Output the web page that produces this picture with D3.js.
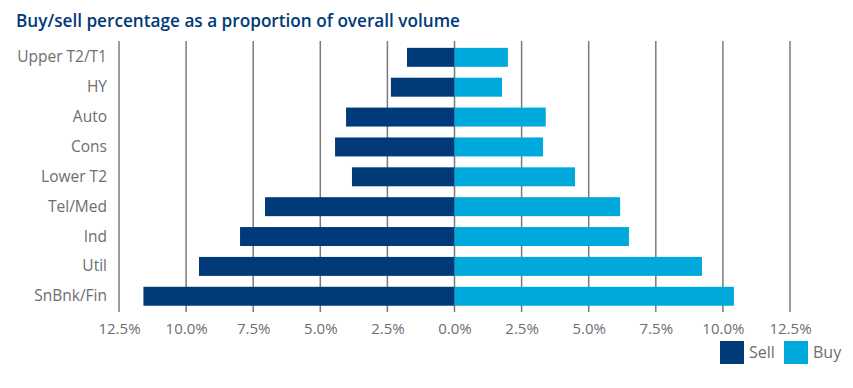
<!DOCTYPE html>
<html>
<head>
<meta charset="utf-8">
<script src="https://cdn.jsdelivr.net/npm/d3@7"></script>
<style>
  body { margin: 0; background: #ffffff; }
  svg { display: block; font-family: "Open Sans", "Noto Sans", sans-serif; }
</style>
</head>
<body>
<div id="chart"></div>
<script>
// values, in % of overall volume
const categories = ["Upper T2/T1", "HY", "Auto", "Cons", "Lower T2", "Tel/Med", "Ind", "Util", "SnBnk/Fin"];
const sellValues = [1.77, 2.37, 4.04, 4.45, 3.82, 7.06, 7.99, 9.52, 11.59];
const buyValues  = [1.99, 1.77, 3.40, 3.30, 4.49, 6.17, 6.50, 9.22, 10.41];
const tickValues = [-12.5, -10, -7.5, -5, -2.5, 0, 2.5, 5, 7.5, 10, 12.5];
const seriesNames = ["Sell", "Buy"];

const width = 853, height = 388;
const sellColor = "#003a78", buyColor = "#00a9dc";
const gridColor = "#7a7a7a", textColor = "#6d6e71";

const svg = d3.select("#chart")
    .append("svg")
    .attr("width", width)
    .attr("height", height);

// title
svg.append("text")
    .attr("x", 16)
    .attr("y", 27)
    .attr("textLength", 444)
    .attr("lengthAdjust", "spacingAndGlyphs")
    .style("font-size", "18.5px")
    .style("font-weight", "600")
    .style("fill", sellColor)
    .text("Buy/sell percentage as a proportion of overall volume");

let xScale = d3.scaleLinear()
    .domain([-12.5, 12.5])
    .range([119, 790]);

let yScale = d3.scaleBand()
    .domain(categories)
    .range([42.4, 311.2])
    .paddingInner(0.365)
    .paddingOuter(0.1825);

//gridlines
svg.append("g")
    .selectAll("line")
    .data(tickValues)
    .enter().append("line")
    .attr("x1", d => xScale(d))
    .attr("x2", d => xScale(d))
    .attr("y1", 41)
    .attr("y2", 312)
    .style("stroke", gridColor)
    .style("stroke-width", 1.5);

// sell bars go left from zero
svg.append("g")
    .selectAll("rect")
    .data(categories)
    .enter().append("rect")
    .attr("x", (d, i) => xScale(-sellValues[i]))
    .attr("y", d => yScale(d))
    .attr("width", (d, i) => xScale(0) - xScale(-sellValues[i]))
    .attr("height", yScale.bandwidth())
    .style("fill", sellColor);

// buy bars go right
svg.append("g")
    .selectAll("rect")
    .data(categories)
    .enter().append("rect")
    .attr("x", xScale(0))
    .attr("y", d => yScale(d))
    .attr("width", (d, i) => xScale(buyValues[i]) - xScale(0))
    .attr("height", yScale.bandwidth())
    .style("fill", buyColor);

// category labels
let yAxis = d3.axisLeft(yScale).tickSize(0).tickPadding(0);
let yG = svg.append("g")
    .attr("transform", "translate(107,0)")
    .call(yAxis);
yG.select(".domain").remove();
yG.selectAll("text")
    .style("font-size", "15.5px")
    .style("font-family", "\"Open Sans\", sans-serif")
    .style("fill", textColor);

// percentage labels, absolute values on both sides
let xAxis = d3.axisBottom(xScale)
    .tickValues(tickValues)
    .tickSize(0)
    .tickPadding(0)
    .tickFormat(d => Math.abs(d).toFixed(1) + "%");
let xG = svg.append("g")
    .attr("transform", "translate(0,320)")
    .call(xAxis);
xG.select(".domain").remove();
xG.selectAll("text")
    .attr("dy", "0.9em")
    .style("font-size", "15px")
    .style("font-family", "\"Open Sans\", sans-serif")
    .style("fill", textColor);

// legend
let legend = svg.append("g")
    .selectAll("g")
    .data(seriesNames)
    .enter().append("g")
    .attr("transform", (d, i) => "translate(" + (720 + i * 64) + ",341)");

legend.append("rect")
    .attr("width", 24)
    .attr("height", 23)
    .style("fill", (d, i) => i === 0 ? sellColor : buyColor);

legend.append("text")
    .attr("x", 29)
    .attr("y", 17)
    .style("font-size", "16px")
    .style("fill", textColor)
    .text(d => d);
</script>
</body>
</html>
